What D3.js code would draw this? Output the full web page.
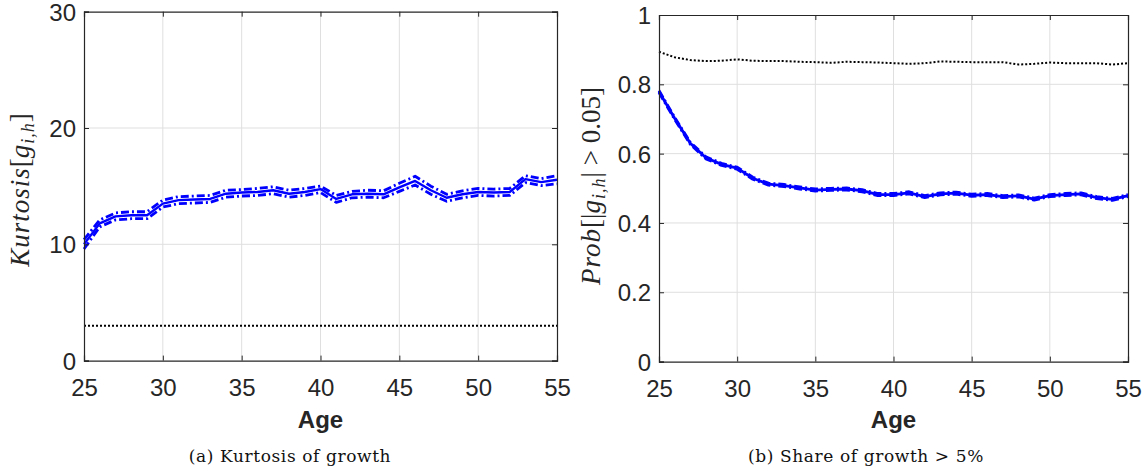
<!DOCTYPE html>
<html>
<head>
<meta charset="utf-8">
<script src="https://cdn.jsdelivr.net/npm/d3@7"></script>
<style>
  html, body { margin: 0; padding: 0; background: #fff; }
  svg { display: block; }
</style>
</head>
<body>
<svg id="fig" width="1145" height="471"></svg>
<script>
// Working ages
const ages = [25,26,27,28,29,30,31,32,33,34,35,36,37,38,39,40,41,42,43,44,45,46,47,48,49,50,51,52,53,54,55];

// Panel (a): kurtosis of income growth, point estimate and band
const kurtMid   = [10.0,11.8,12.4,12.5,12.5,13.5,13.8,13.85,13.9,14.35,14.45,14.5,14.65,14.35,14.5,14.75,13.9,14.3,14.35,14.3,14.9,15.45,14.65,14.0,14.3,14.5,14.45,14.5,15.6,15.35,15.55];
const kurtUpper = [10.4,12.1,12.7,12.8,12.8,13.8,14.1,14.15,14.2,14.65,14.7,14.8,14.95,14.65,14.8,15.0,14.2,14.55,14.65,14.6,15.25,15.85,15.0,14.3,14.6,14.8,14.75,14.8,15.9,15.65,15.9];
const kurtLower = [9.6,11.5,12.1,12.2,12.2,13.2,13.5,13.55,13.6,14.05,14.15,14.2,14.35,14.05,14.2,14.45,13.6,14.0,14.05,14.0,14.55,15.1,14.3,13.7,14.0,14.2,14.15,14.2,15.3,15.05,15.2];
const kurtNormal = [3,3,3,3,3,3,3,3,3,3,3,3,3,3,3,3,3,3,3,3,3,3,3,3,3,3,3,3,3,3,3];

// Panel (b): share of |growth| above 5%
const shareMid   = [0.779,0.702,0.630,0.588,0.569,0.558,0.529,0.512,0.508,0.501,0.495,0.497,0.498,0.493,0.482,0.482,0.487,0.476,0.484,0.486,0.480,0.482,0.476,0.478,0.469,0.479,0.482,0.484,0.473,0.468,0.479];
const shareUpper = [0.782,0.705,0.633,0.591,0.572,0.561,0.532,0.515,0.511,0.504,0.498,0.500,0.501,0.496,0.485,0.485,0.490,0.479,0.487,0.489,0.483,0.485,0.479,0.481,0.472,0.482,0.485,0.487,0.476,0.471,0.482];
const shareLower = [0.776,0.699,0.627,0.585,0.566,0.555,0.526,0.509,0.505,0.498,0.492,0.494,0.495,0.490,0.479,0.479,0.484,0.473,0.481,0.483,0.477,0.479,0.473,0.475,0.466,0.476,0.479,0.481,0.470,0.465,0.476];
const shareNormal = [0.894,0.878,0.870,0.867,0.868,0.872,0.868,0.867,0.867,0.865,0.864,0.862,0.865,0.864,0.863,0.861,0.859,0.861,0.866,0.865,0.864,0.864,0.864,0.857,0.859,0.863,0.861,0.861,0.861,0.857,0.861];

const xTicks = [25,30,35,40,45,50,55];
const yTicksA = [0,10,20,30];
const yTicksB = [0,0.2,0.4,0.6,0.8,1];

const svg = d3.select("#fig");
const AX = "#262626";
const GRID = "#dfdfdf";
const BLUE = "#0000ff";
const SANS = "'Liberation Sans', Arial, sans-serif";

function panel(opts) {
  const x = d3.scaleLinear().domain([25, 55]).range([opts.left, opts.right]);
  const y = d3.scaleLinear().domain(opts.yDomain).range([opts.bottom, opts.top]);
  const g = svg.append("g");

  // grid
  g.append("g").selectAll("line").data(xTicks.slice(1, -1)).join("line")
    .attr("x1", d => x(d)).attr("x2", d => x(d))
    .attr("y1", opts.top).attr("y2", opts.bottom)
    .attr("stroke", GRID).attr("stroke-width", 1);
  g.append("g").selectAll("line").data(opts.yTicks.slice(1, -1)).join("line")
    .attr("x1", opts.left).attr("x2", opts.right)
    .attr("y1", d => y(d)).attr("y2", d => y(d))
    .attr("stroke", GRID).attr("stroke-width", 1);

  // series
  const line = d3.line().x((d, i) => x(ages[i])).y(d => y(d));
  opts.series.forEach(s => {
    g.append("path").datum(s.values)
      .attr("d", line)
      .attr("fill", "none")
      .attr("stroke", s.color)
      .attr("stroke-width", s.width)
      .attr("stroke-dasharray", s.dash || null)
      .attr("stroke-linejoin", "round");
  });

  // axes: ticks inward, box on all sides
  const tickLen = 5;
  const bottomAxis = d3.axisBottom(x).tickValues(xTicks).tickSize(-tickLen).tickFormat(d3.format("d")).tickPadding(0);
  const topAxis = d3.axisTop(x).tickValues(xTicks).tickSize(-tickLen).tickFormat("");
  const leftAxis = d3.axisLeft(y).tickValues(opts.yTicks).tickSize(-tickLen).tickFormat(opts.fmt);
  const rightAxis = d3.axisRight(y).tickValues(opts.yTicks).tickSize(-tickLen).tickFormat("");

  const styleAxis = sel => {
    sel.select(".domain").attr("stroke", AX).attr("stroke-width", 1.2);
    sel.selectAll(".tick line").attr("stroke", AX).attr("stroke-width", 1);
    sel.selectAll("text").attr("fill", AX)
      .style("font-family", SANS)
      .style("font-size", "24px");
  };

  const gb = g.append("g").attr("transform", `translate(0,${opts.bottom})`).call(bottomAxis).call(styleAxis);
  gb.selectAll("text").attr("y", 35).attr("dy", null);
  g.append("g").attr("transform", `translate(0,${opts.top})`).call(topAxis).call(styleAxis);
  const gl = g.append("g").attr("transform", `translate(${opts.left},0)`).call(leftAxis).call(styleAxis);
  gl.selectAll("text").attr("x", -8).attr("dy", "0.36em");
  g.append("g").attr("transform", `translate(${opts.right},0)`).call(rightAxis).call(styleAxis);

  // x label
  g.append("text")
    .attr("x", (opts.left + opts.right) / 2).attr("y", 428)
    .attr("text-anchor", "middle")
    .style("font-family", SANS)
    .style("font-size", "24px").style("font-weight", "bold")
    .attr("fill", AX).text("Age");

  // y label (math style)
  const yl = g.append("text")
    .attr("transform", `translate(${opts.ylabelX},${opts.ylabelY}) rotate(-90)`)
    .attr("text-anchor", "middle")
    .style("font-family", "'Liberation Serif', 'Times New Roman', serif")
    .style("font-size", "27px")
    .attr("fill", AX);
  opts.ylabelParts.forEach(p => {
    const t = yl.append("tspan").text(p.t);
    if (p.it) t.style("font-style", "italic").style("letter-spacing", "1px");
    if (p.sub) t.attr("baseline-shift", "-28%").style("font-size", "18px");
    if (p.sp) t.attr("dx", p.sp);
  });

  // caption
  svg.append("text")
    .attr("x", opts.capX).attr("y", 462)
    .attr("text-anchor", "middle")
    .style("font-family", "'DejaVu Serif', serif")
    .style("font-size", "17px")
    .style("letter-spacing", "0.6px")
    .attr("fill", "#111").text(opts.caption);
}

panel({
  left: 84, right: 557, top: 11.7, bottom: 360.6,
  yDomain: [0, 30], yTicks: yTicksA, fmt: d3.format("d"),
  series: [
    { values: kurtUpper, color: BLUE, width: 2.8, dash: "8,3,2,3" },
    { values: kurtLower, color: BLUE, width: 2.8, dash: "8,3,2,3" },
    { values: kurtMid, color: BLUE, width: 2.4 },
    { values: kurtNormal, color: "#000", width: 2, dash: "2,2" }
  ],
  ylabelX: 29, ylabelY: 190,
  ylabelParts: [
    { t: "Kurtosis", it: true }, { t: "[" }, { t: "g", it: true },
    { t: "i,h", it: true, sub: true }, { t: "]" }
  ],
  capX: 290, caption: "(a) Kurtosis of growth"
});

panel({
  left: 659, right: 1128, top: 15, bottom: 361.6,
  yDomain: [0, 1], yTicks: yTicksB, fmt: d => d === 0 ? "0" : d === 1 ? "1" : d3.format(".1f")(d),
  series: [
    { values: shareUpper, color: BLUE, width: 2.8, dash: "8,3,2,3" },
    { values: shareLower, color: BLUE, width: 2.8, dash: "8,3,2,3" },
    { values: shareMid, color: BLUE, width: 2.8 },
    { values: shareNormal, color: "#000", width: 2, dash: "2,2" }
  ],
  ylabelX: 600, ylabelY: 186,
  ylabelParts: [
    { t: "Prob", it: true }, { t: "[|" }, { t: "g", it: true },
    { t: "i,h", it: true, sub: true }, { t: "| > 0.05]" }
  ],
  capX: 866, caption: "(b) Share of growth > 5%"
});
</script>
</body>
</html>
